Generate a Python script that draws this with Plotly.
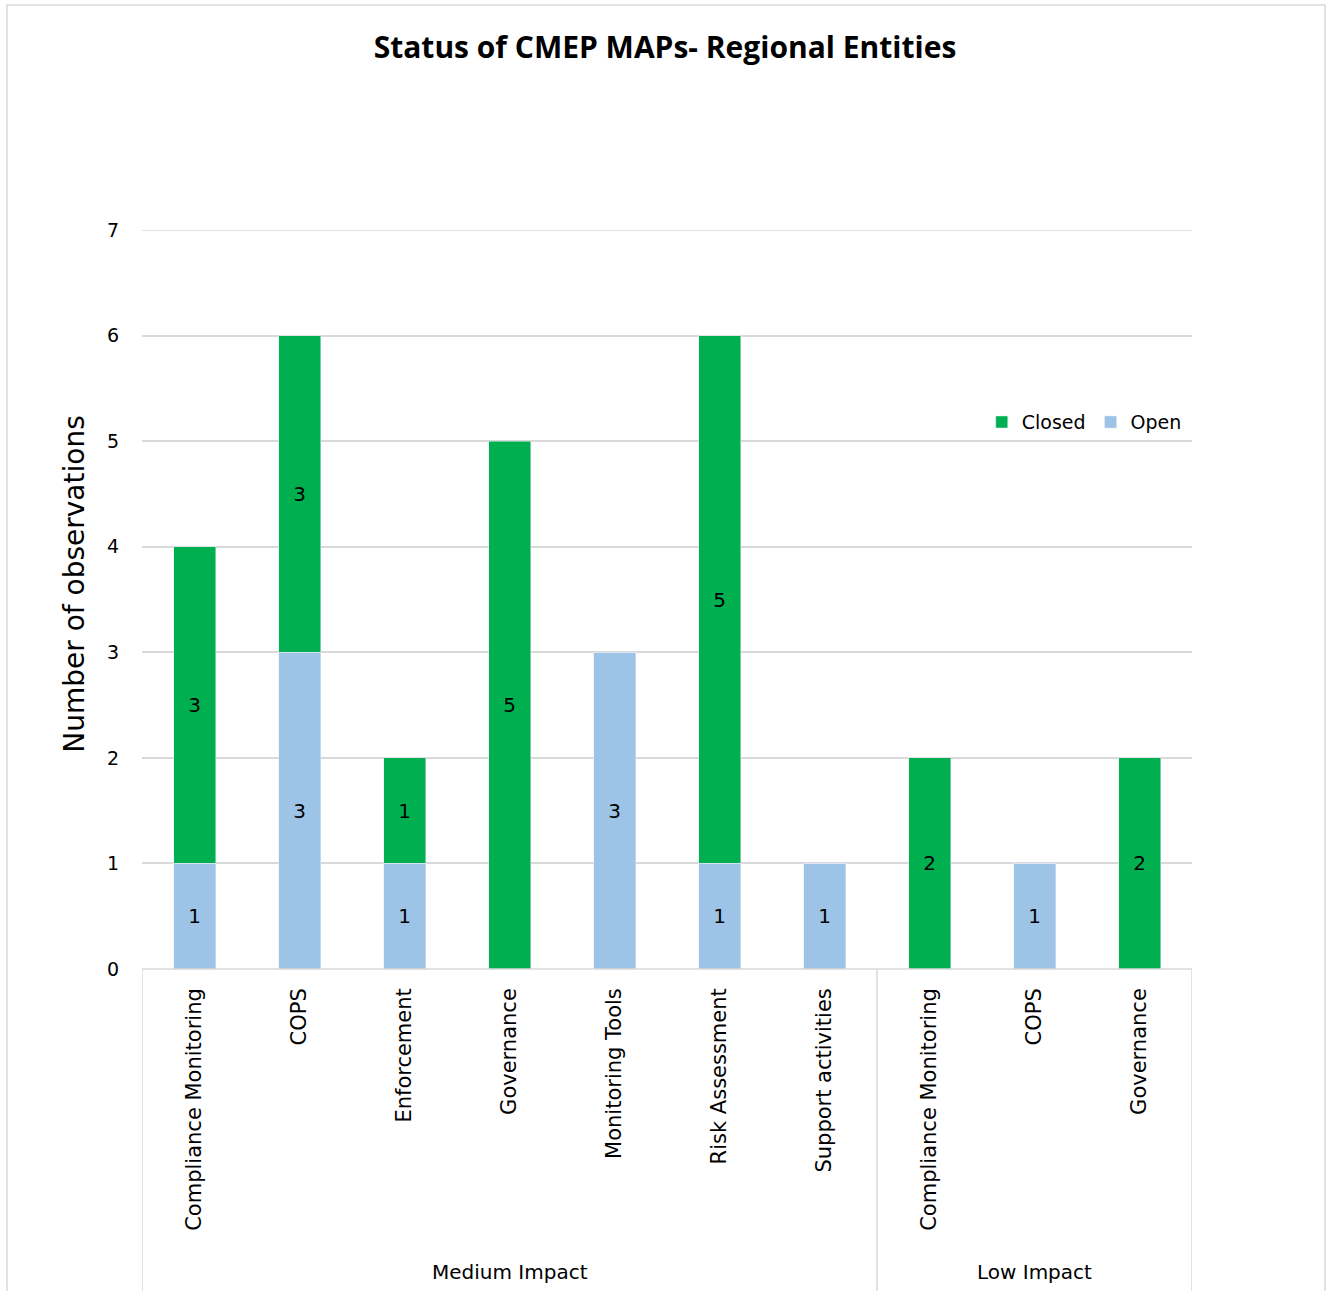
import plotly.graph_objects as go

categories = ["Compliance Monitoring", "COPS", "Enforcement", "Governance", "Monitoring Tools",
              "Risk Assessment", "Support activities", "Compliance Monitoring", "COPS", "Governance"]
groups = ["Medium Impact"] * 7 + ["Low Impact"] * 3
open_vals = [1, 3, 1, 0, 3, 1, 1, 0, 1, 0]
closed_vals = [3, 3, 1, 5, 0, 5, 0, 2, 0, 2]
y_ticks = [0, 1, 2, 3, 4, 5, 6, 7]

GREEN = "#00B050"
BLUE = "#9DC3E6"
FONT = "DejaVu Sans"
TFONT = "Open Sans"

xpos = list(range(len(categories)))

def lbl(v):
    return [str(x) if x else "" for x in v]

fig = go.Figure()
fig.add_trace(go.Bar(x=xpos, y=open_vals, name="Open", marker_color=BLUE, width=0.4,
                     text=lbl(open_vals), textposition="inside", insidetextanchor="middle",
                     textfont=dict(color="#000000", size=20, family=FONT)))
fig.add_trace(go.Bar(x=xpos, y=closed_vals, name="Closed", marker_color=GREEN, width=0.4,
                     text=lbl(closed_vals), textposition="inside", insidetextanchor="middle",
                     textfont=dict(color="#000000", size=20, family=FONT)))

# separators for grouped categories
n = len(categories)
bounds = [0]
for i in range(1, n):
    if groups[i] != groups[i - 1]:
        bounds.append(i)
bounds.append(n)
shapes = []
for b in bounds:
    shapes.append(dict(type="line", xref="x", yref="paper", x0=b - 0.5, x1=b - 0.5, y0=0, y1=-0.44,
                       line=dict(color="#D9D9D9", width=1.5)))
shapes.append(dict(type="line", xref="x", yref="paper", x0=-0.5, x1=n - 0.5, y0=0, y1=0,
                   line=dict(color="#D9D9D9", width=1.5)))
shapes.append(dict(type="line", xref="x", yref="y", x0=-0.5, x1=n - 0.5, y0=max(y_ticks), y1=max(y_ticks),
                   line=dict(color="#D9D9D9", width=1.5), layer="below"))
shapes.append(dict(type="rect", xref="paper", yref="paper", x0=-0.1286, x1=1.1267, y0=-0.5, y1=1.3045,
                   line=dict(color="#D9D9D9", width=1.5)))

annotations = []
for k in range(len(bounds) - 1):
    a, b = bounds[k], bounds[k + 1]
    annotations.append(dict(x=(a + b - 1) / 2, y=-0.41, xref="x", yref="paper", text=groups[a],
                            yanchor="middle", showarrow=False,
                            font=dict(size=20, family=FONT, color="#000000")))
annotations.append(dict(x=-0.0638, y=0.52, xref="paper", yref="paper", text="Number of observations",
                        textangle=-90, showarrow=False, xanchor="center", yanchor="middle",
                        font=dict(size=28, family=FONT, color="#000000")))

fig.update_layout(
    width=1330, height=1291,
    margin=dict(l=142, r=138, t=230, b=322),
    paper_bgcolor="white", plot_bgcolor="white",
    barmode="stack",
    title=dict(text="<b>Status of CMEP MAPs- Regional Entities</b>", x=0.5, xanchor="center",
               y=1 - 47 / 1291, yanchor="middle", font=dict(size=30, family=TFONT, color="#000000")),
    xaxis=dict(range=[-0.5, n - 0.5], tickmode="array", tickvals=xpos, ticktext=categories,
               tickangle=-90, showgrid=False, zeroline=False, showline=False, ticks="",
               ticklabelstandoff=14,
               tickfont=dict(size=21, family=FONT, color="#000000")),
    yaxis=dict(range=[0, 7], tickvals=y_ticks, showgrid=True, gridcolor="#D9D9D9", gridwidth=1.5,
               zeroline=False, showline=False, ticks="", ticklabelstandoff=22,
               tickfont=dict(size=19, family=FONT, color="#000000")),
    legend=dict(orientation="h", x=0.995, xanchor="right", y=0.74, yanchor="middle",
                traceorder="reversed", font=dict(size=19, family=FONT, color="#000000"),
                itemwidth=30, bgcolor="rgba(0,0,0,0)"),
    bargap=0.6,
    shapes=shapes, annotations=annotations,
)

fig.write_html("out.html")
